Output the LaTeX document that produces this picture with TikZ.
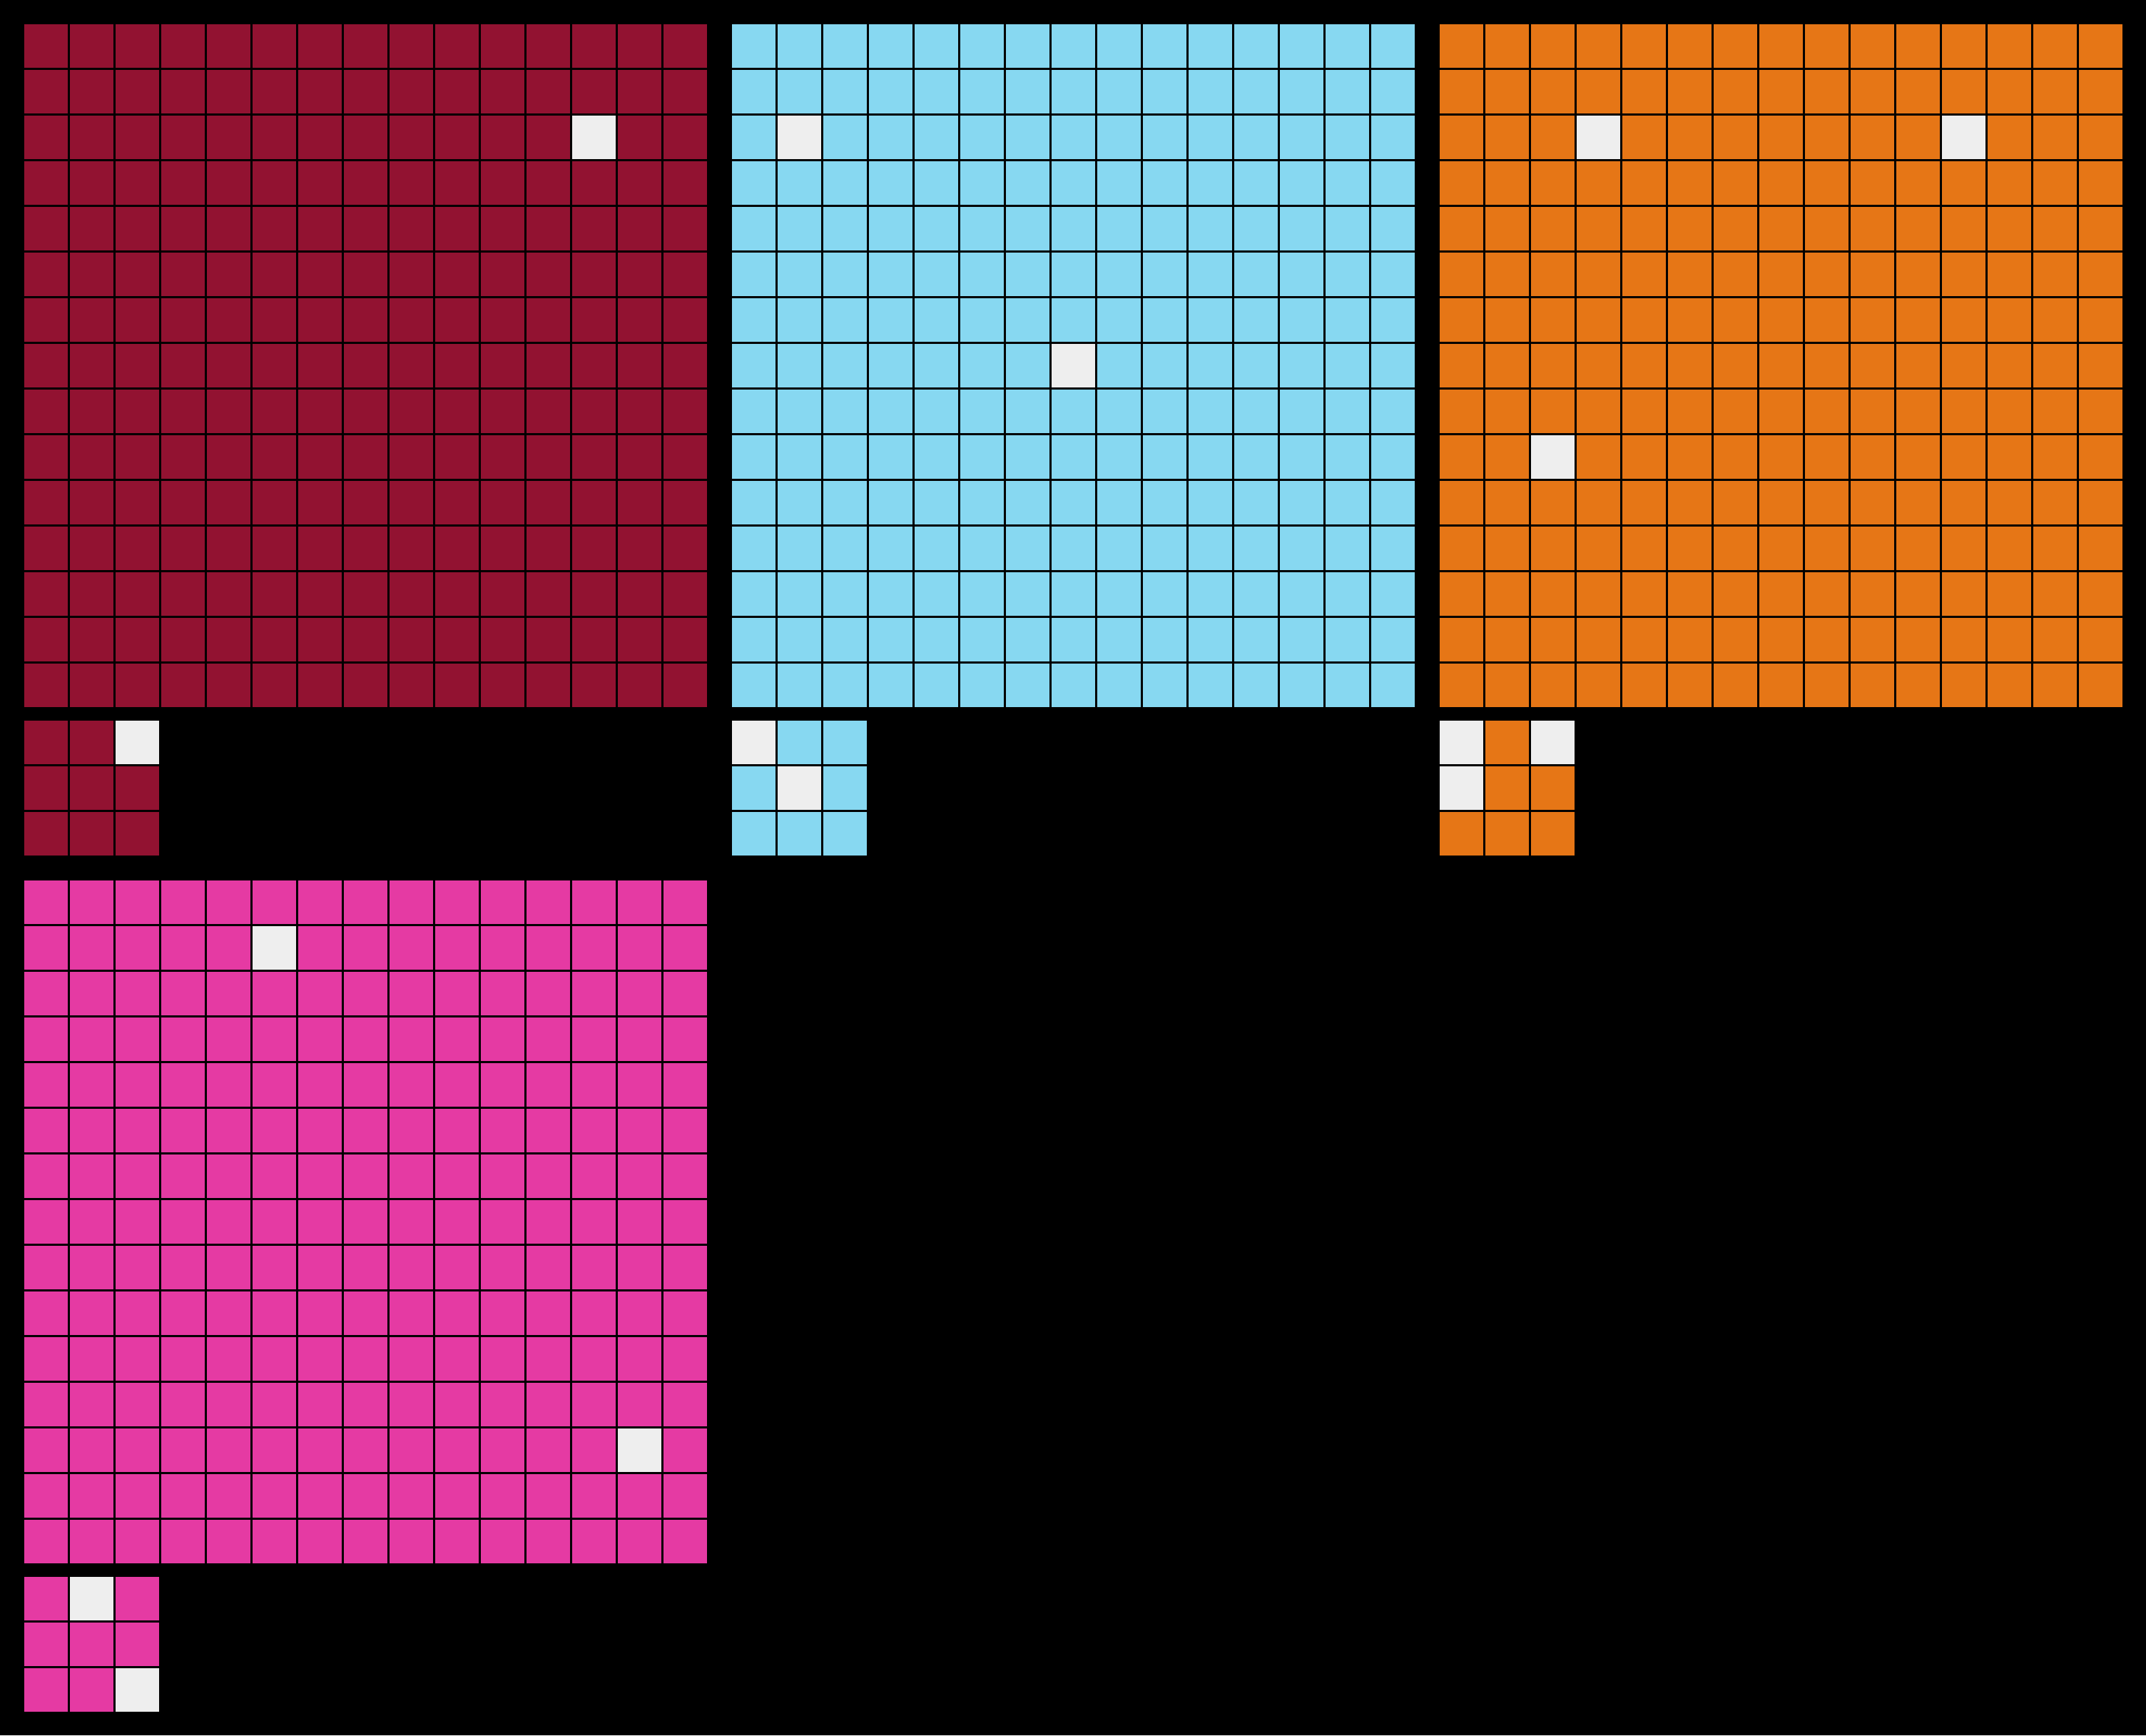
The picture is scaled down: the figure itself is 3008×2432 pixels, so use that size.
\documentclass[tikz,border=0pt]{standalone}
\definecolor{cmaroon}{HTML}{921231}
\definecolor{cazure}{HTML}{87D8F1}
\definecolor{corange}{HTML}{E67616}
\definecolor{cpink}{HTML}{E53AA3}
\definecolor{cwhite}{HTML}{EEEEEE}
% #1 x0, #2 y0, #3 last index, #4 colour, #5 list of row/col white cells
\newcommand{\arcgrid}[5]{%
  \foreach \r in {0,...,#3}{\foreach \c in {0,...,#3}{%
    \fill[#4] ({#1+64*\c},{#2+64*\r}) rectangle ++(61,61);}}
  \foreach \r/\c in {#5}{%
    \fill[cwhite] ({#1+64*\c},{#2+64*\r}) rectangle ++(61,61);}
}
\begin{document}
\begin{tikzpicture}[x=0.5pt,y=-0.5pt]
\fill[black] (0,0) rectangle (3008,2432);
\useasboundingbox (0,0) rectangle (3008,2432);
% maroon pair
\arcgrid{34}{34}{14}{cmaroon}{2/12}
\arcgrid{34}{1010}{2}{cmaroon}{0/2}
% azure pair
\arcgrid{1026}{34}{14}{cazure}{2/1,7/7}
\arcgrid{1026}{1010}{2}{cazure}{0/0,1/1}
% orange pair
\arcgrid{2018}{34}{14}{corange}{2/3,2/11,9/2}
\arcgrid{2018}{1010}{2}{corange}{0/0,0/2,1/0}
% pink pair
\arcgrid{34}{1234}{14}{cpink}{1/5,12/13}
\arcgrid{34}{2210}{2}{cpink}{0/1,2/2}
\end{tikzpicture}
\end{document}
